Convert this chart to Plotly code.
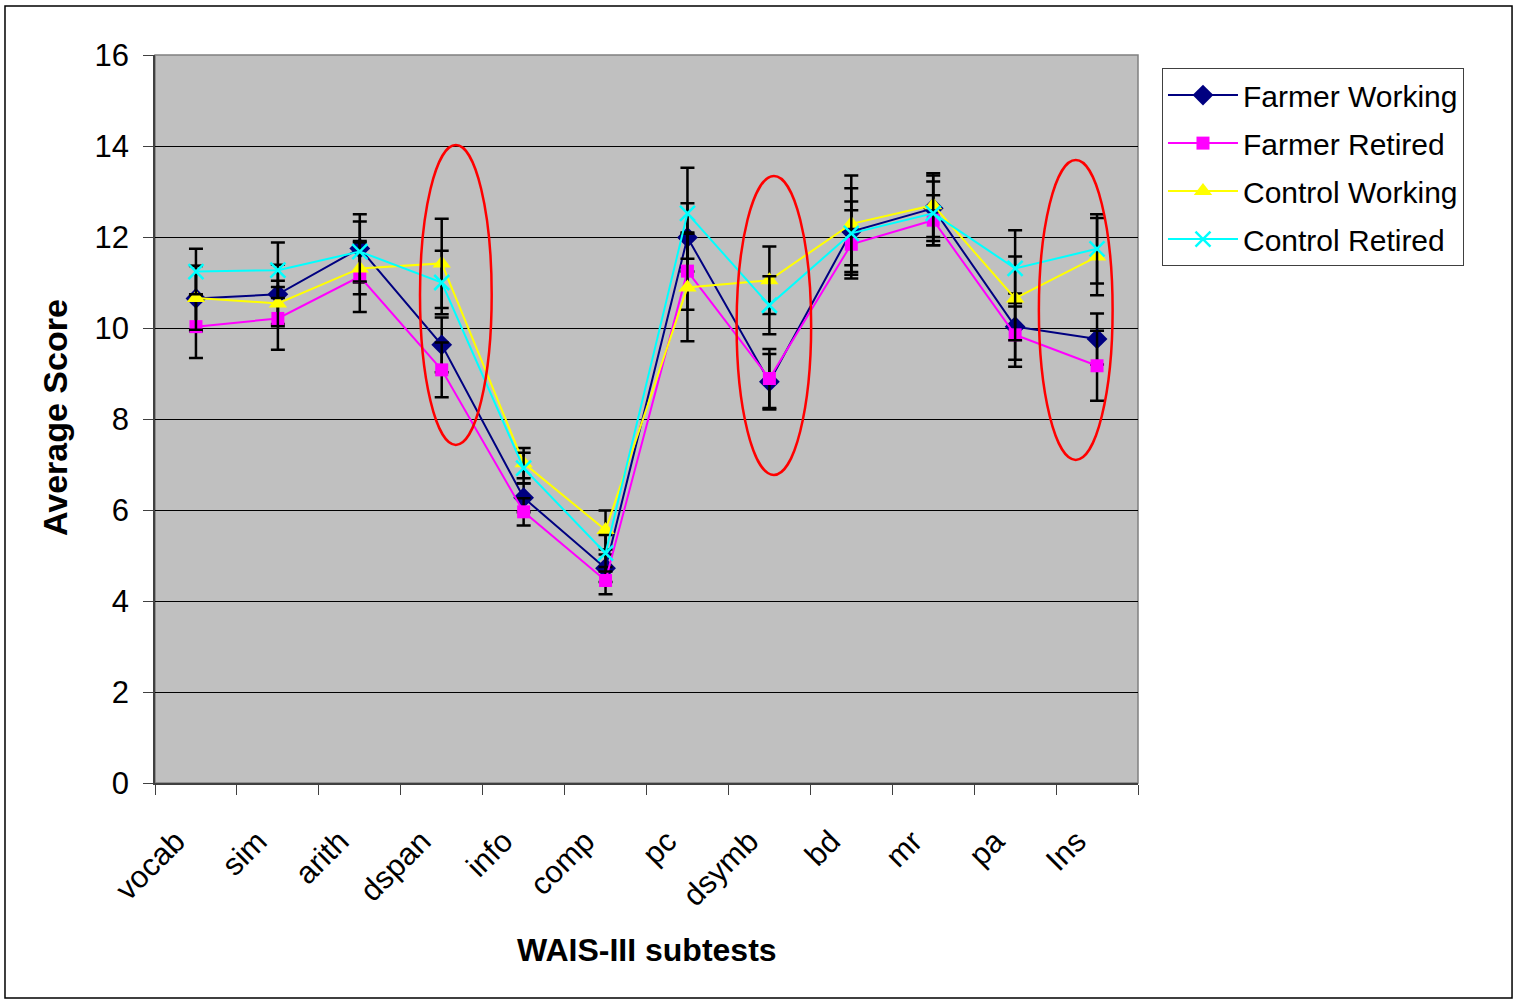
import plotly.graph_objects as go

categories = ["vocab", "sim", "arith", "dspan", "info", "comp", "pc", "dsymb", "bd", "mr", "pa", "Ins"]

farmer_working = [10.65, 10.74, 11.75, 9.63, 6.27, 4.72, 11.99, 8.82, 12.12, 12.63, 10.03, 9.76]
farmer_retired = [10.03, 10.21, 11.13, 9.08, 5.96, 4.45, 11.25, 8.89, 11.84, 12.37, 9.85, 9.17]
control_working = [10.66, 10.54, 11.31, 11.42, 7.03, 5.56, 10.89, 11.05, 12.29, 12.70, 10.65, 11.57]
control_retired = [11.24, 11.27, 11.68, 11.00, 6.92, 5.05, 12.52, 10.50, 12.08, 12.52, 11.31, 11.74]

err_farmer_working = [0.72, 0.65, 0.75, 0.60, 0.32, 0.30, 0.75, 0.61, 0.95, 0.72, 0.73, 0.56]
err_farmer_retired = [0.69, 0.69, 0.78, 0.60, 0.30, 0.30, 0.85, 0.65, 0.75, 0.55, 0.70, 0.77]
err_control_working = [0.70, 0.50, 0.57, 0.98, 0.33, 0.43, 1.18, 0.74, 1.06, 0.70, 0.92, 0.85]
err_control_retired = [0.50, 0.61, 0.66, 0.70, 0.34, 0.40, 1.00, 0.64, 0.70, 0.70, 0.84, 0.76]

series_names = ["Farmer Working", "Farmer Retired", "Control Working", "Control Retired"]
y_ticks = [0, 2, 4, 6, 8, 10, 12, 14, 16]

# highlight ellipses: (x0, x1, y0, y1) in category index / score units
ellipses = [
    (2.735, 3.61, 7.43, 14.02),
    (6.60, 7.51, 6.77, 13.34),
    (10.29, 11.19, 7.10, 13.69),
]

FONT = "Liberation Sans, Arial, sans-serif"

styles = [
    dict(color="#000080", symbol="diamond", size=16, lw=2),
    dict(color="#FF00FF", symbol="square", size=13, lw=2),
    dict(color="#FFFF00", symbol="triangle-up", size=16, lw=2),
    dict(color="#00FFFF", symbol="x-thin", size=15, lw=2),
]

data = [farmer_working, farmer_retired, control_working, control_retired]
errs = [err_farmer_working, err_farmer_retired, err_control_working, err_control_retired]

fig = go.Figure()
for name, vals, err, st in zip(series_names, data, errs, styles):
    marker = dict(color=st["color"], symbol=st["symbol"], size=st["size"])
    if st["symbol"] == "x-thin":
        marker["line"] = dict(color=st["color"], width=2.5)
    fig.add_trace(go.Scatter(
        x=categories, y=vals, name=name, mode="lines+markers",
        line=dict(color=st["color"], width=st["lw"]),
        marker=marker,
        error_y=dict(type="data", array=err, visible=True, color="black", thickness=2.5, width=7),
        legendgroup=name,
    ))

shapes = []
for (x0, x1, y0, y1) in ellipses:
    shapes.append(dict(type="circle", xref="x", yref="y", x0=x0, x1=x1, y0=y0, y1=y1,
                       line=dict(color="#FF0000", width=2.5), fillcolor="rgba(0,0,0,0)", layer="above"))
# outer chart border
shapes.append(dict(type="rect", xref="paper", yref="paper", x0=-0.1526, x1=1.3805, y0=-0.2953, y1=1.0673,
                   line=dict(color="black", width=1.5), fillcolor="rgba(0,0,0,0)", layer="below"))
# plot area border
shapes.append(dict(type="rect", xref="paper", yref="paper", x0=0, x1=1, y0=0, y1=1,
                   line=dict(color="#808080", width=1.5), fillcolor="rgba(0,0,0,0)", layer="below"))

fig.update_layout(
    width=1519, height=1001,
    margin=dict(l=155, r=381, t=55, b=218),
    paper_bgcolor="white", plot_bgcolor="#C0C0C0",
    font=dict(family=FONT, size=31, color="black"),
    showlegend=True,
    legend=dict(x=1.0244, y=0.982, xanchor="left", yanchor="top",
                bgcolor="white", bordercolor="#404040", borderwidth=1,
                font=dict(family=FONT, size=30), tracegroupgap=6, itemwidth=70),
    shapes=shapes,
    annotations=[
        dict(text="<b>WAIS-III subtests</b>", xref="paper", yref="paper", x=0.5005, y=-0.2294,
             xanchor="center", yanchor="middle", showarrow=False, font=dict(family=FONT, size=32)),
        dict(text="<b>Average Score</b>", xref="paper", yref="paper", x=-0.1017, y=0.5014,
             xanchor="center", yanchor="middle", textangle=-90, showarrow=False, font=dict(family=FONT, size=34)),
    ],
)

fig.update_xaxes(type="category", range=[-0.5, 11.5], tickson="boundaries", ticks="outside", ticklen=10,
                 tickcolor="#404040", tickangle=-45, showgrid=False, showline=True, linecolor="#404040",
                 linewidth=1.5, mirror=False, zeroline=False, ticklabelstandoff=26, ticklabelshift=-20,
                 tickfont=dict(family=FONT, size=31))
fig.update_yaxes(range=[0, 16], tickvals=y_ticks, ticks="outside", ticklen=10, tickcolor="#404040",
                 showgrid=True, gridcolor="black", gridwidth=1, showline=True, linecolor="#404040",
                 linewidth=1.5, zeroline=False, ticklabelstandoff=8, tickfont=dict(family=FONT, size=31))

fig.write_html("out.html", config={"displayModeBar": False},
               post_script="document.body.style.margin='0';document.body.style.overflow='hidden';")
